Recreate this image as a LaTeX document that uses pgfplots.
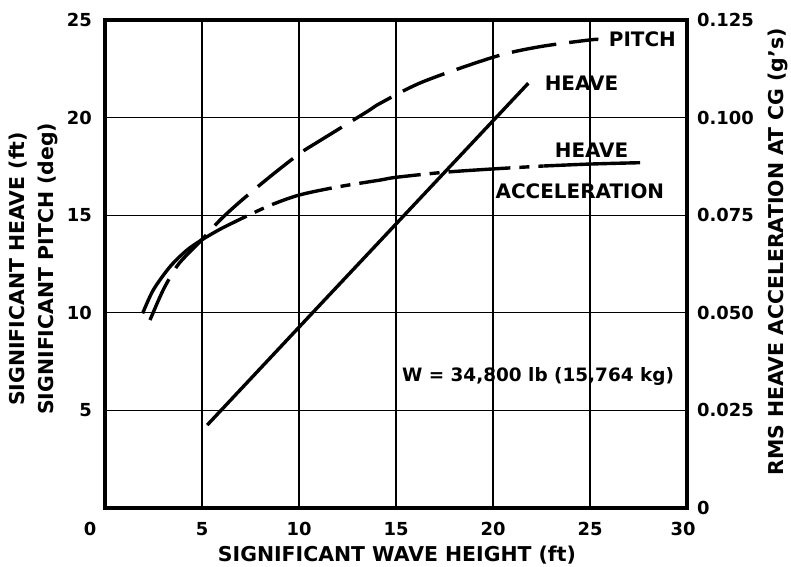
\documentclass[border=0pt]{standalone}
\usepackage{fontspec}
\setmainfont{DejaVu Sans}
\usepackage{pgfplots}
\pgfplotsset{compat=1.18}
\newcommand{\tickfont}{\fontsize{18}{21}\selectfont\bfseries}
\newcommand{\wfont}{\fontsize{18.5}{21}\selectfont\bfseries}
\newcommand{\labfont}{\fontsize{20.5}{29}\selectfont\bfseries}
\newcommand{\curvefont}{\fontsize{20}{24}\selectfont\bfseries}
\begin{document}
\begin{tikzpicture}
\useasboundingbox (-105bp,-59bp) rectangle (686bp,508bp);
\begin{axis}[
  at={(0,0)}, anchor=south west,
  width=582bp, height=488bp, scale only axis,
  xmin=0, xmax=30, ymin=0, ymax=25,
  xtick={0,5,...,30}, ytick={5,10,15,20,25},
  xticklabels={{0\kern30bp},5,10,15,20,25,{30\kern8bp}},
  grid=major, grid style={black, line width=1.3bp},
  major tick length=0pt,
  axis line style={line width=3.2bp},
  tick label style={font=\tickfont, inner sep=0pt},
  xticklabel style={yshift=-14bp},
  yticklabel style={xshift=-13bp},
  /pgf/number format/assume math mode=true,
  xlabel={SIGNIFICANT WAVE HEIGHT (ft)},
  xlabel style={at={(axis description cs:0.5017,-0.0963)}, anchor=center, font=\labfont, inner sep=0pt},
  ylabel={SIGNIFICANT HEAVE (ft)\\SIGNIFICANT PITCH (deg)},
  ylabel style={at={(axis description cs:-0.1229,0.49)}, anchor=center, font=\labfont, align=center, inner sep=0pt},
]
% Pitch (dashed)
\addplot[black, line width=3.4bp, smooth, dash pattern=on 45bp off 13bp] coordinates {
(2.32,9.63) (3.0,11.17) (3.69,12.36) (4.3,13.05) (5.0,13.75) (5.93,14.75) (6.96,15.69)
(8.5,16.97) (10.05,18.17) (11.0,18.77) (13.5,20.3) (14.18,20.73) (16.4,21.84)
(20.1,23.12) (22.4,23.63) (25.0,23.98) (25.43,24.0)};
% Heave (solid straight)
\addplot[black, line width=3.4bp] coordinates {(5.27,4.25) (10.65,9.95) (21.82,21.76)};
% Heave acceleration: solid part
\addplot[black, line width=3.4bp, smooth] coordinates {
(1.94,9.97) (2.49,11.17) (3.35,12.36) (4.21,13.2) (4.98,13.73) (5.93,14.28) (6.96,14.79) (7.3,14.95)};
% Heave acceleration: dash-dot part
\addplot[black, line width=3.4bp, smooth, dash pattern=on 62bp off 9bp on 10bp off 9bp, dash phase=62bp] coordinates {
(7.3,14.95) (8.5,15.5) (10.0,16.03) (12.0,16.45) (14.18,16.8) (15.0,16.94) (17.5,17.2) (20.0,17.37) (22.6,17.52)};
% Heave acceleration: solid end
\addplot[black, line width=3.4bp, smooth] coordinates {(22.6,17.52) (25.0,17.62) (27.58,17.69)};
\node[font=\curvefont, inner sep=0pt] at (axis cs:27.7,24.0) {PITCH};
\node[font=\curvefont, inner sep=0pt] at (axis cs:24.56,21.75) {HEAVE};
\node[font=\curvefont, inner sep=0pt] at (axis cs:25.08,18.31) {HEAVE};
\node[font=\curvefont, inner sep=0pt] at (axis cs:24.48,16.24) {ACCELERATION};
\node[font=\wfont, inner sep=0pt, anchor=base] at (axis cs:22.32,6.5) {W = 34,800 lb (15,764 kg)};
\end{axis}
\begin{axis}[
  at={(0,0)}, anchor=south west,
  width=582bp, height=488bp, scale only axis,
  xmin=0, xmax=30, ymin=0, ymax=0.125,
  axis y line*=right, axis x line=none,
  ytick={0,0.025,0.05,0.075,0.1,0.125},
  yticklabels={0,0.025,0.050,0.075,0.100,0.125},
  major tick length=0pt,
  axis line style={line width=3.2bp},
  tick label style={font=\tickfont, inner sep=0pt},
  yticklabel style={xshift=10bp},
  ylabel={RMS HEAVE ACCELERATION AT CG (g's)},
  ylabel style={at={(axis description cs:1.1564,0.5246)}, anchor=center, font=\labfont, inner sep=0pt},
]
\addplot[draw=none] coordinates {(0,0)};
\end{axis}
\end{tikzpicture}
\end{document}
